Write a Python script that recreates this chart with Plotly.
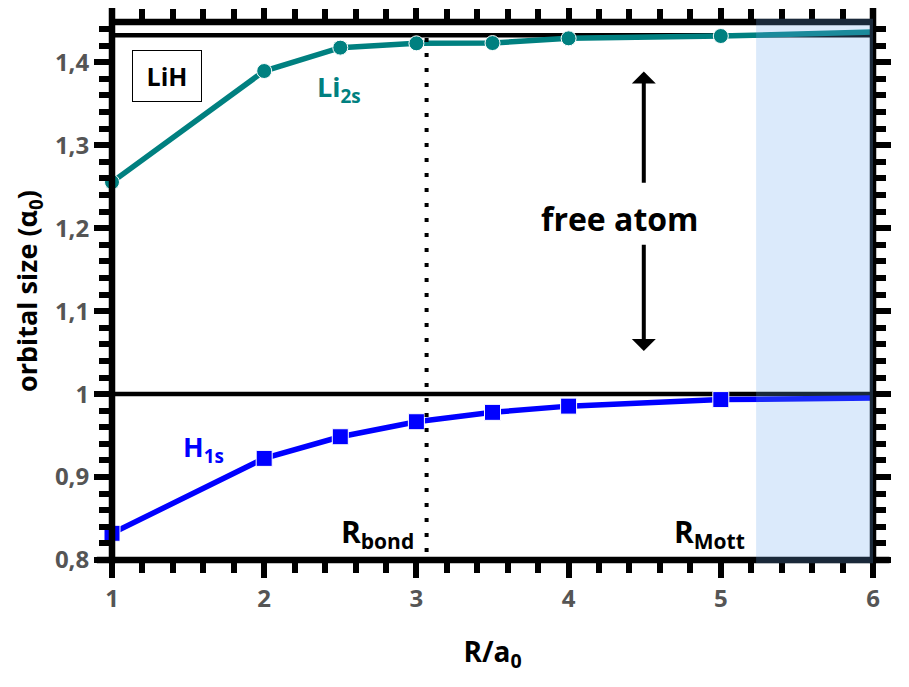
import plotly.graph_objects as go

# ---- data ----
R = [1, 2, 2.5, 3, 3.5, 4, 5, 6]
li_2s = [1.2556, 1.3895, 1.4177, 1.4229, 1.4232, 1.4289, 1.4317, 1.4364]
h_1s = [0.8322, 0.9225, 0.9486, 0.9667, 0.9780, 0.9855, 0.9934, 0.9952]
marker_shown = [1, 1, 1, 1, 1, 1, 1, 0]

x_ticks = [1, 2, 3, 4, 5, 6]
x_ticktext = ["1", "2", "3", "4", "5", "6"]
y_ticks = [0.8, 0.9, 1.0, 1.1, 1.2, 1.3, 1.4]
y_ticktext = ["0,8", "0,9", "1", "1,1", "1,2", "1,3", "1,4"]

li_free = 1.4325
h_free = 1.0
r_bond = 3.067
r_mott = 5.232
x_range = [1, 6]
y_range = [0.8, 1.4486]

TEAL = "#008080"
BLUE = "#0000ff"
FONT = "Open Sans"

fig = go.Figure()

fig.add_trace(go.Scatter(
    x=R, y=li_2s, mode="lines+markers",
    line=dict(color=TEAL, width=5.5),
    marker=dict(symbol="circle", size=[15 * m for m in marker_shown], color=TEAL, opacity=1),
    cliponaxis=False, showlegend=False))
fig.add_trace(go.Scatter(
    x=R, y=h_1s, mode="lines+markers",
    line=dict(color=BLUE, width=5.5),
    marker=dict(symbol="square", size=[16 * m for m in marker_shown], color=BLUE, opacity=1),
    cliponaxis=False, showlegend=False))

shapes = []
# reference (free atom) lines
shapes.append(dict(type="line", xref="paper", yref="y", x0=-0.0203, x1=1.0217,
                   y0=h_free, y1=h_free, line=dict(color="black", width=4.5), layer="below"))
shapes.append(dict(type="line", xref="paper", yref="y", x0=0, x1=1,
                   y0=li_free, y1=li_free, line=dict(color="black", width=4.5), layer="below"))
# R_bond dotted line
shapes.append(dict(type="line", xref="x", yref="paper", x0=r_bond, x1=r_bond,
                   y0=0.015, y1=0.985, line=dict(color="black", width=4, dash="4px,11px"),
                   layer="above"))
# frame
shapes.append(dict(type="line", xref="paper", yref="paper", x0=-0.02, x1=1.0217, y0=0, y1=0,
                   line=dict(color="black", width=6.5), layer="above"))
shapes.append(dict(type="line", xref="paper", yref="paper", x0=0, x1=1, y0=1, y1=1,
                   line=dict(color="black", width=6.5), layer="above"))
shapes.append(dict(type="line", xref="paper", yref="paper", x0=0, x1=0, y0=-0.006, y1=1.031,
                   line=dict(color="black", width=6.5), layer="above"))
shapes.append(dict(type="line", xref="paper", yref="paper", x0=1, x1=1, y0=-0.006, y1=1.031,
                   line=dict(color="black", width=6.5), layer="above"))
# Mott region
shapes.append(dict(type="rect", xref="x", yref="paper", x0=r_mott, x1=x_range[1],
                   y0=-0.006, y1=1.006, fillcolor="#6ba9ef", opacity=0.245,
                   line=dict(width=0), layer="above"))

annotations = [
    dict(x=1.364, y=1.383, xref="x", yref="y", text="LiH", showarrow=False,
         font=dict(family=FONT, size=25, color="black", weight="bold"),
         bordercolor="black", borderwidth=1, borderpad=0, width=68, height=50,
         bgcolor="white"),
    dict(x=2.493, y=1.369, xref="x", yref="y", text="Li<sub>2s</sub>", showarrow=False,
         font=dict(family=FONT, size=27, color=TEAL, weight="bold")),
    dict(x=1.600, y=0.934, xref="x", yref="y", text="H<sub>1s</sub>", showarrow=False,
         font=dict(family=FONT, size=27, color=BLUE, weight="bold")),
    dict(x=4.337, y=1.212, xref="x", yref="y", text="free atom", showarrow=False,
         font=dict(family=FONT, size=32, color="black", weight="bold")),
    dict(x=2.742, y=0.8325, xref="x", yref="y", text="R<sub>bond</sub>", showarrow=False,
         font=dict(family=FONT, size=30, color="black", weight="bold")),
    dict(x=4.927, y=0.8325, xref="x", yref="y", text="R<sub>Mott</sub>", showarrow=False,
         font=dict(family=FONT, size=30, color="black", weight="bold")),
    dict(x=4.494, y=1.389, ax=4.494, ay=1.253, xref="x", yref="y", axref="x", ayref="y",
         text="", showarrow=True, arrowhead=1, arrowsize=1, arrowwidth=4,
         arrowcolor="black", standoff=0, startstandoff=0),
    dict(x=4.494, y=1.052, ax=4.494, ay=1.182, xref="x", yref="y", axref="x", ayref="y",
         text="", showarrow=True, arrowhead=1, arrowsize=1, arrowwidth=4,
         arrowcolor="black", standoff=0, startstandoff=0),
]

tickfont = dict(family=FONT, size=24, color="#555555", weight="bold")

fig.update_layout(
    width=901, height=679,
    margin=dict(l=104, r=35.5, t=13.7, b=127),
    paper_bgcolor="white", plot_bgcolor="rgba(0,0,0,0)",
    shapes=shapes, annotations=annotations,
    xaxis=dict(range=x_range, tickvals=x_ticks, ticktext=x_ticktext,
               ticks="outside", ticklen=17, tickwidth=6, tickcolor="black",
               mirror="allticks", showline=False, showgrid=False, zeroline=False,
               tickfont=tickfont,
               minor=dict(dtick=0.2, tick0=1, ticks="outside", ticklen=12, tickwidth=6,
                          tickcolor="black", showgrid=False),
               title=dict(text="R/a<sub>0</sub>",
                          font=dict(family=FONT, size=28, color="black", weight="bold"),
                          standoff=29)),
    yaxis=dict(range=y_range, tickvals=y_ticks, ticktext=y_ticktext,
               ticks="outside", ticklen=17, tickwidth=6, tickcolor="black",
               mirror="allticks", showline=False, showgrid=False, zeroline=False,
               tickfont=tickfont,
               minor=dict(dtick=0.02, tick0=0.8, ticks="outside", ticklen=12, tickwidth=6,
                          tickcolor="black", showgrid=False),
               title=dict(text="orbital size (α<sub>0</sub>)",
                          font=dict(family=FONT, size=27, color="black", weight="bold"),
                          standoff=12)),
)

fig.write_html("out.html")
